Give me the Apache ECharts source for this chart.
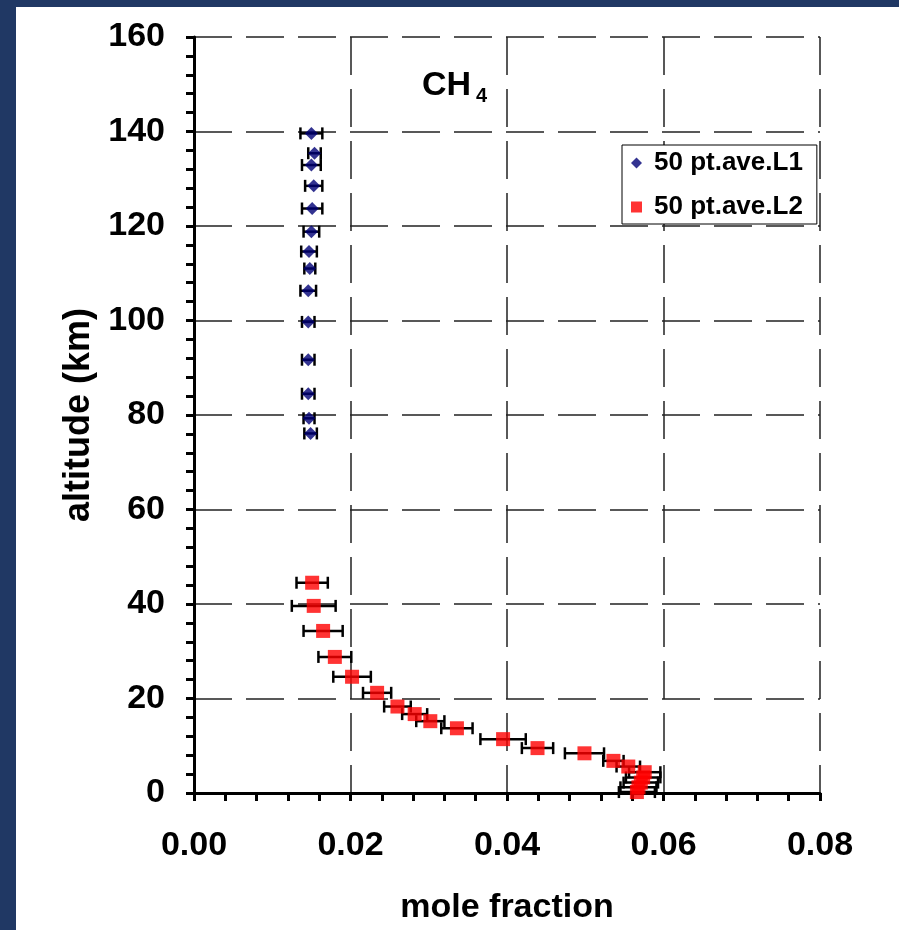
<!DOCTYPE html>
<html><head><meta charset="utf-8">
<script src="https://cdn.jsdelivr.net/npm/echarts@6/dist/echarts.min.js"></script>
<style>
html,body{margin:0;padding:0;background:#203864;width:899px;height:930px;overflow:hidden;}
#c{position:absolute;left:16px;top:7px;width:883px;height:923px;background:#fff;}
</style></head>
<body><div id="c"></div>
<script>
// Series L1 (50 pt.ave.L1)
var l1Alt = [139.6, 135.4, 132.9, 128.5, 123.7, 118.8, 114.6, 111.0, 106.3, 99.7, 91.7, 84.5, 79.3, 76.1];
var l1Val = [0.0150, 0.0154, 0.0150, 0.0153, 0.0151, 0.0150, 0.0147, 0.0148, 0.0146, 0.0146, 0.0146, 0.0146, 0.0147, 0.0149];
var l1Err = [0.0014, 0.0008, 0.0012, 0.0011, 0.0013, 0.0010, 0.0010, 0.0007, 0.0010, 0.0008, 0.0008, 0.0008, 0.0007, 0.0008];
// Series L2 (50 pt.ave.L2)
var l2Alt = [44.5, 39.6, 34.3, 28.8, 24.6, 21.2, 18.3, 16.7, 15.2, 13.7, 11.4, 9.5, 8.4, 6.8, 5.6, 4.4, 3.3, 2.2, 1.2, 0.2];
var l2Val = [0.0151, 0.0153, 0.0165, 0.0180, 0.0202, 0.0234, 0.0260, 0.0282, 0.0302, 0.0336, 0.0395, 0.0439, 0.0499, 0.0536, 0.0555, 0.0576, 0.0574, 0.0571, 0.0568, 0.0566];
var l2Err = [0.0020, 0.0028, 0.0025, 0.0021, 0.0024, 0.0018, 0.0017, 0.0016, 0.0018, 0.0020, 0.0029, 0.0020, 0.0025, 0.0013, 0.0015, 0.0020, 0.0022, 0.0022, 0.0023, 0.0023];
var seriesNames = ['50 pt.ave.L1', '50 pt.ave.L2'];
var xTicks = [0, 0.02, 0.04, 0.06, 0.08];
var yTicks = [0, 20, 40, 60, 80, 100, 120, 140, 160];

var FONT = 'Liberation Sans, Arial, Helvetica, sans-serif';

function pts(v, a) { return v.map(function (x, i) { return [x, a[i]]; }); }
function errs(v, a, e) { return v.map(function (x, i) { return [x - e[i], x + e[i], a[i]]; }); }

function renderErr(params, api) {
  var lo = api.coord([api.value(0), api.value(2)]);
  var hi = api.coord([api.value(1), api.value(2)]);
  var h = 6;
  var st = { stroke: '#000', lineWidth: 2.5 };
  return { type: 'group', children: [
    { type: 'line', shape: { x1: lo[0], y1: lo[1], x2: hi[0], y2: hi[1] }, style: st },
    { type: 'line', shape: { x1: lo[0], y1: lo[1] - h, x2: lo[0], y2: lo[1] + h }, style: st },
    { type: 'line', shape: { x1: hi[0], y1: hi[1] - h, x2: hi[0], y2: hi[1] + h }, style: st }
  ] };
}

var chart = echarts.init(document.getElementById('c'), null, { renderer: 'canvas' });
var axisCommon = {
  axisLine: { show: true, onZero: false, lineStyle: { color: '#000', width: 3 } },
  axisTick: { show: true, length: 8, lineStyle: { color: '#000', width: 3 } },
  minorTick: { show: true, splitNumber: 5, length: 8, lineStyle: { color: '#000', width: 3 } },
  splitLine: { show: true, lineStyle: { color: '#222', width: 1.5, type: [38, 14] } },
  nameLocation: 'middle',
  nameTextStyle: { fontFamily: FONT, fontWeight: 'bold', color: '#000' }
};
var option = {
  animation: false,
  backgroundColor: '#fff',
  grid: { left: 178, top: 30, right: 79, bottom: 137, outerBoundsMode: 'none', containLabel: false },
  legend: {
    data: [{ name: seriesNames[0], icon: 'diamond' }, { name: seriesNames[1], icon: 'rect' }],
    orient: 'vertical', left: 606, top: 138,
    backgroundColor: '#fff', borderColor: '#000', borderWidth: 1,
    padding: [5, 14, 4, 9], itemGap: 18, itemWidth: 11, itemHeight: 11,
    textStyle: { fontFamily: FONT, fontWeight: 'bold', fontSize: 26, color: '#000', padding: [0, 0, 0, 7] }
  },
  graphic: [
    { type: 'text', left: 406, top: 62, style: { text: 'CH', font: 'bold 34px ' + FONT, fill: '#000' } },
    { type: 'text', left: 460, top: 79, style: { text: '4', font: 'bold 20px ' + FONT, fill: '#000' } }
  ],
  xAxis: Object.assign({}, axisCommon, {
    type: 'value', min: xTicks[0], max: xTicks[xTicks.length - 1], interval: xTicks[1] - xTicks[0],
    name: 'mole fraction', nameGap: 98,
    nameTextStyle: { fontFamily: FONT, fontWeight: 'bold', fontSize: 34, color: '#000' },
    axisLabel: { fontFamily: FONT, fontWeight: 'bold', fontSize: 34, color: '#000', margin: 36,
      formatter: function (v) { return v.toFixed(2); } }
  }),
  yAxis: Object.assign({}, axisCommon, {
    type: 'value', min: yTicks[0], max: yTicks[yTicks.length - 1], interval: yTicks[1] - yTicks[0],
    name: 'altitude (km)', nameGap: 97,
    nameTextStyle: { fontFamily: FONT, fontWeight: 'bold', fontSize: 36, color: '#000' },
    axisLabel: { fontFamily: FONT, fontWeight: 'bold', fontSize: 34, color: '#000', margin: 29 }
  }),
  series: [
    { type: 'custom', name: 'errL1', renderItem: renderErr, data: errs(l1Val, l1Alt, l1Err),
      encode: { x: [0, 1], y: 2 }, z: 2, silent: true, clip: false },
    { type: 'custom', name: 'errL2', renderItem: renderErr, data: errs(l2Val, l2Alt, l2Err),
      encode: { x: [0, 1], y: 2 }, z: 2, silent: true, clip: false },
    { type: 'scatter', name: seriesNames[0], data: pts(l1Val, l1Alt), symbol: 'diamond', symbolSize: 13,
      itemStyle: { color: '#000075' }, z: 5, clip: false },
    { type: 'scatter', name: seriesNames[1], data: pts(l2Val, l2Alt), symbol: 'rect', symbolSize: 14,
      itemStyle: { color: '#ff0000' }, z: 5, clip: false }
  ]
};
chart.setOption(option);
</script>
</body></html>
